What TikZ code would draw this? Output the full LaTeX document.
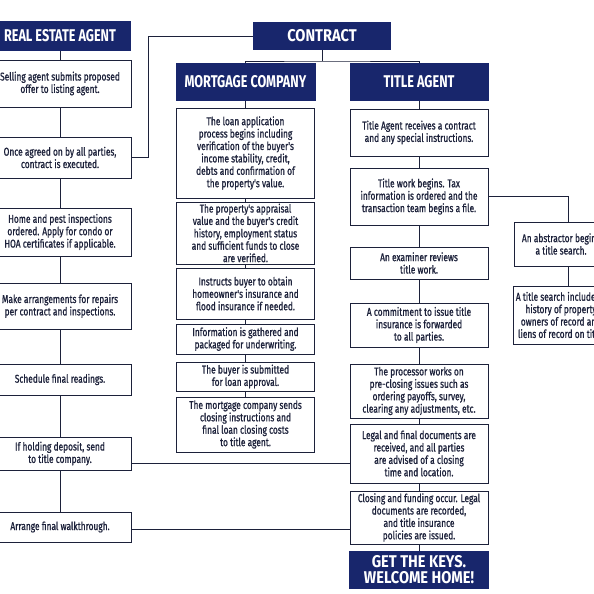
\documentclass[tikz,border=0pt]{standalone}
\usepackage{fontspec}
\newfontfamily\bodyfont[FakeStretch=0.74, FakeBold=0.9]{Fira Sans}
\newfontfamily\headfont[FakeStretch=0.745]{Fira Sans}
\newfontfamily\wideheadfont[FakeStretch=0.86]{Fira Sans}
\definecolor{navy}{RGB}{24,38,108}
\definecolor{ink}{RGB}{28,33,58}
\tikzset{
  stepbox/.style={draw=ink, line width=0.9pt, fill=white, text=ink, align=center, inner sep=0pt,
    font=\bodyfont\fontsize{11.3}{12.4}\selectfont},
  hdr/.style={fill=navy, text=white, align=center, inner sep=0pt,
    font=\headfont\bfseries\fontsize{17}{17}\selectfont},
  link/.style={draw=ink, line width=0.9pt}
}

\begin{document}
\begin{tikzpicture}[x=1pt, y=-1pt]
                \useasboundingbox (0,0) rectangle (594,594);
                \fill[white] (0,0) rectangle (594,594);
                \clip (0,0) rectangle (594,594);

                \node[hdr, minimum width=142, minimum height=30] (rea) at (60,36) {REAL ESTATE AGENT};
                \node[stepbox, minimum width=142, minimum height=47] (sell) at (60,83.5) {Selling agent submits proposed\\offer to listing agent.};
                \node[stepbox, minimum width=142, minimum height=41] (agree) at (60,157.5) {Once agreed on by all parties,\\contract is executed.};
                \node[stepbox, minimum width=142, minimum height=48] (inspect) at (60,232) {Home and pest inspections\\ordered. Apply for condo or\\HOA certificates if applicable.};
                \node[stepbox, minimum width=142, minimum height=46] (repair) at (60,306) {Make arrangements for repairs\\per contract and inspections.};
                \node[stepbox, minimum width=142, minimum height=31] (read) at (60,379.5) {Schedule final readings.};
                \node[stepbox, minimum width=142, minimum height=33] (deposit) at (60,453.5) {If holding deposit, send\\to title company.};
                \node[stepbox, minimum width=142, minimum height=30] (walk) at (60,527) {Arrange final walkthrough.};

                \node[hdr, font=\wideheadfont\bfseries\fontsize{17}{17}\selectfont, minimum width=138, minimum height=28] (contract) at (322,36) {CONTRACT};
                \coordinate (split) at (322,61);

                \node[hdr, minimum width=140, minimum height=38] (mort) at (245.5,82) {MORTGAGE COMPANY};
                \node[stepbox, minimum width=138, minimum height=90] (loan) at (245.5,153) {The loan application\\process begins including\\verification of the buyer's\\income stability, credit,\\debts and confirmation of\\the property's value.};
                \node[stepbox, minimum width=138, minimum height=62] (apprais) at (245.5,233) {The property's appraisal\\value and the buyer's credit\\history, employment status\\and sufficient funds to close\\are verified.};
                \node[stepbox, minimum width=138, minimum height=51] (insure) at (245.5,293.5) {Instructs buyer to obtain\\homeowner's insurance and\\flood insurance if needed.};
                \node[stepbox, minimum width=138, minimum height=30] (gather) at (245.5,339) {Information is gathered and\\packaged for underwriting.};
                \node[stepbox, minimum width=138, minimum height=29] (submit) at (245.5,376.5) {The buyer is submitted\\for loan approval.};
                \node[stepbox, minimum width=138, minimum height=55] (costs) at (245.5,424.5) {The mortgage company sends\\closing instructions and\\final loan closing costs\\to title agent.};

                \node[hdr, minimum width=139, minimum height=38] (title) at (419,82) {TITLE AGENT};
                \node[stepbox, minimum width=138, minimum height=47] (receive) at (419,132.5) {Title Agent receives a contract\\and any special instructions.};
                \node[stepbox, minimum width=138, minimum height=57] (work) at (419,196.5) {Title work begins. Tax\\information is ordered and the\\transaction team begins a file.};
                \node[stepbox, minimum width=138, minimum height=32] (exam) at (419,263) {An examiner reviews\\title work.};
                \node[stepbox, minimum width=138, minimum height=44] (commit) at (419,325) {A commitment to issue title\\insurance is forwarded\\to all parties.};
                \node[stepbox, minimum width=138, minimum height=54] (process) at (419,391) {The processor works on\\pre-closing issues such as\\ordering payoffs, survey,\\clearing any adjustments, etc.};
                \node[stepbox, minimum width=138, minimum height=59] (legal) at (419,453.5) {Legal and final documents are\\received, and all parties\\are advised of a closing\\time and location.};
                \node[stepbox, minimum width=138, minimum height=53] (close) at (419,517.5) {Closing and funding occur. Legal\\documents are recorded,\\and title insurance\\policies are issued.};
                \node[hdr, font=\wideheadfont\bfseries\fontsize{17}{16}\selectfont, minimum width=140, minimum height=38] (keys) at (419,570) {GET THE KEYS.\\WELCOME HOME!};

                \node[stepbox, minimum width=94, minimum height=44] (abstr) at (561,244) {An abstractor begins\\a title search.};
                \node[stepbox, minimum width=96, minimum height=58] (search) at (561,315) {A title search includes a\\history of property\\owners of record and\\liens of record on title.};

                \draw[link] (rea.south) -- (sell.north) (sell.south) -- (agree.north) (agree.south) -- (inspect.north)
                    (inspect.south) -- (repair.north) (repair.south) -- (read.north) (read.south) -- (deposit.north)
                    (deposit.south) -- (walk.north);
                \draw[link] (agree.east) -- ++(17,0) |- (contract.west);
                \draw[link] (contract.south) -- (split);
                \draw[link] (mort.north) |- (split) -| (title.north);
                \draw[link] (mort.south) -- (loan.north) (loan.south) -- (apprais.north) (apprais.south) -- (insure.north)
                    (insure.south) -- (gather.north) (gather.south) -- (submit.north) (submit.south) -- (costs.north);
                \draw[link] (title.south) -- (receive.north) (receive.south) -- (work.north) (work.south) -- (exam.north)
                    (exam.south) -- (commit.north) (commit.south) -- (process.north) (process.south) -- (legal.north)
                    (legal.south) -- (close.north) (close.south) -- (keys.north);
                \draw[link] (work.east) -| ([xshift=7pt]abstr.north);
                \draw[link] ([xshift=7pt]abstr.south) -- ([xshift=7pt]search.north);
                \draw[link] ([yshift=-9.5pt]deposit.east) -- ([yshift=-9.5pt]deposit.east -| legal.west);
                \draw[link] ([yshift=-2pt]walk.east) -- ([yshift=-2pt]walk.east -| close.west);
            \end{tikzpicture}
\end{document}
